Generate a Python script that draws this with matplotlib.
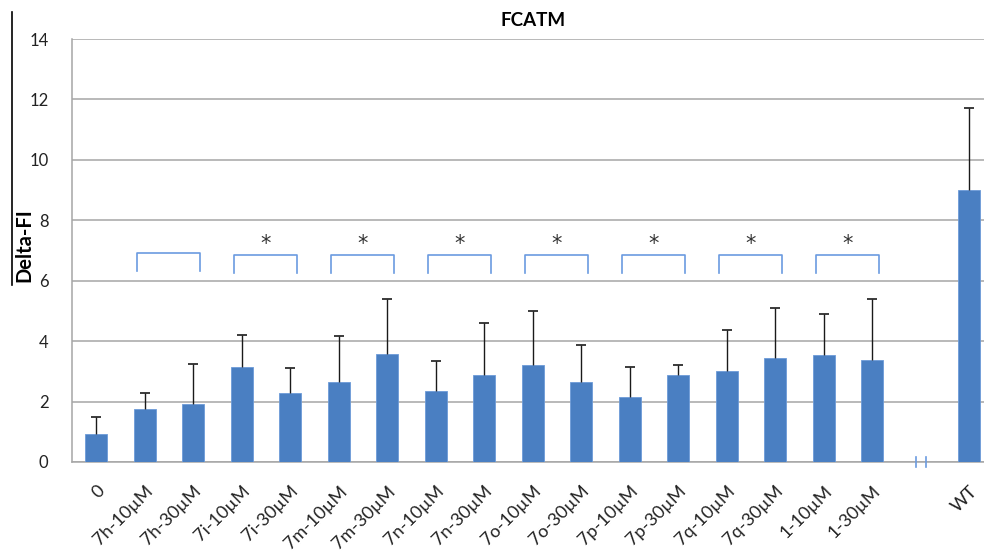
import matplotlib.pyplot as plt
from matplotlib.lines import Line2D

plt.rcParams['font.family'] = ['Lato', 'DejaVu Sans']

labels = ['0', '7h-10µM', '7h-30µM', '7i-10µM', '7i-30µM', '7m-10µM', '7m-30µM',
          '7n-10µM', '7n-30µM', '7o-10µM', '7o-30µM', '7p-10µM', '7p-30µM',
          '7q-10µM', '7q-30µM', '1-10µM', '1-30µM', '', 'WT']
values = [0.93, 1.75, 1.92, 3.15, 2.28, 2.65, 3.57, 2.35, 2.88, 3.2, 2.65,
          2.15, 2.88, 3.0, 3.45, 3.55, 3.37, None, 9.0]
err_top = [1.5, 2.28, 3.25, 4.2, 3.1, 4.17, 5.4, 3.35, 4.6, 5.0, 3.87,
           3.15, 3.22, 4.37, 5.1, 4.9, 5.38, None, 11.7]
# pairs of bar indices joined by a bracket, and whether marked with *
brackets = [(1, 2, ''), (3, 4, '*'), (5, 6, '*'), (7, 8, '*'), (9, 10, '*'),
            (11, 12, '*'), (13, 14, '*'), (15, 16, '*')]
break_slot = 17

bar_color = '#4a7fc2'
grid_color = '#a6a6a6'
bracket_color = '#6b9be0'

fig = plt.figure(figsize=(9.84, 5.58), dpi=100)
ax = fig.add_axes([72 / 984, 96 / 558, 921.5 / 984, 423 / 558])

xs = [i for i, v in enumerate(values) if v is not None]
hs = [values[i] for i in xs]
tops = [err_top[i] for i in xs]
ax.bar(xs, hs, width=0.45, color=bar_color, edgecolor='#6d9bd8', linewidth=0.6, zorder=3)
# upper error bars only, no cap at the bar top
ax.vlines(xs, hs, tops, color='#1a1a1a', linewidth=1, zorder=4)
ax.plot(xs, tops, linestyle='none', marker='_', markersize=7, markeredgewidth=1.2,
        color='#1a1a1a', zorder=4)

ax.set_xlim(-0.5, len(labels) - 0.5)
ax.set_ylim(0, 14)
ax.set_yticks(range(0, 15, 2))
ax.yaxis.grid(True, color=grid_color, linewidth=1.1, zorder=0)
ax.set_axisbelow(True)
for side in ['top', 'right']:
    ax.spines[side].set_visible(False)
for side in ['left', 'bottom']:
    ax.spines[side].set_color(grid_color)
    ax.spines[side].set_linewidth(1.1)
ax.tick_params(axis='both', length=0, colors='#222222')
ax.tick_params(axis='y', pad=17, labelsize=12)
ax.set_xticks(range(len(labels)))
ax.set_xticklabels(labels, rotation=45, ha='right', rotation_mode='anchor')
ax.tick_params(axis='x', pad=15, labelsize=13)

# significance brackets
for a, b, mark in brackets:
    y_top = 6.92 if a == 1 else 6.85
    y_bot = y_top - 0.6
    xl, xr = a - 0.16, b + 0.13
    ax.plot([xl, xl, xr, xr], [y_bot, y_top, y_top, y_bot], color=bracket_color,
            linewidth=1.2, zorder=5)
    if mark:
        ax.text((xl + xr) / 2, y_top + 0.05, mark, ha='center', va='bottom',
                fontsize=15, color='#333333', family='DejaVu Sans')

# axis break marker
for dx in (-0.1, 0.1):
    ax.plot([break_slot + dx, break_slot + dx], [-0.15, 0.15], color=bracket_color,
            linewidth=1.2, clip_on=False, zorder=5)

ax.set_title('FCATM', fontsize=13.5, fontweight='bold', pad=9)
fig.text(24 / 984, 1 - 245 / 558, 'Delta-FI', rotation=90, ha='center', va='center',
         fontsize=14.5, fontweight='bold')
fig.add_artist(Line2D([12 / 984, 12 / 984], [1 - 12 / 558, 1 - 285 / 558],
                      color='black', linewidth=1.2))

fig.savefig('out.png', dpi=100)
